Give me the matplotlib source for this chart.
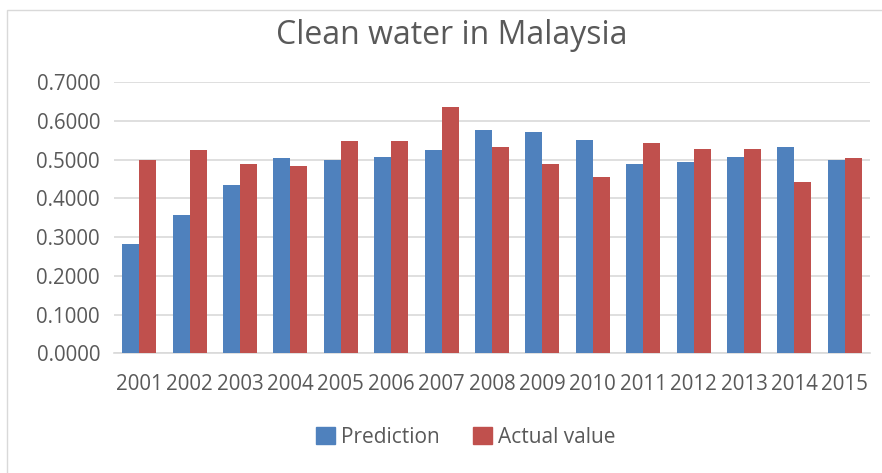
import matplotlib.pyplot as plt
import matplotlib.patches as mpatches
import numpy as np

years = ['2001', '2002', '2003', '2004', '2005', '2006', '2007', '2008',
         '2009', '2010', '2011', '2012', '2013', '2014', '2015']
prediction = [0.283, 0.358, 0.435, 0.505, 0.499, 0.506, 0.524, 0.576,
              0.570, 0.551, 0.489, 0.494, 0.506, 0.531, 0.499]
actual = [0.499, 0.524, 0.489, 0.482, 0.547, 0.547, 0.635, 0.531,
          0.488, 0.454, 0.543, 0.527, 0.527, 0.441, 0.505]
y_ticks = [0.0, 0.1, 0.2, 0.3, 0.4, 0.5, 0.6, 0.7]

blue = '#4F81BD'
red = '#C0504D'
grey_text = '#595959'
grid_col = '#D9D9D9'

plt.rcParams['font.family'] = ['Open Sans', 'DejaVu Sans']

fig = plt.figure(figsize=(8.82, 4.73), dpi=100)
ax = fig.add_axes([114 / 882, 1 - 353.3 / 473, 756 / 882, 271.3 / 473])

x = np.arange(len(years))
w = 0.337
ax.bar(x - w / 2, prediction, w, color=blue, label='Prediction', zorder=3)
ax.bar(x + w / 2, actual, w, color=red, label='Actual value', zorder=3)

ax.set_xlim(-0.5, len(years) - 0.5)
ax.set_ylim(0, 0.7)
ax.set_yticks(y_ticks)
ax.set_yticklabels(['%.4f' % v for v in y_ticks])
ax.set_xticks(x)
ax.set_xticklabels(years)
ax.yaxis.grid(True, color=grid_col, linewidth=1.2, zorder=0)
ax.tick_params(axis='both', length=0, labelsize=14.8, colors=grey_text)
ax.tick_params(axis='x', pad=15)
ax.tick_params(axis='y', pad=10)
for s in ['top', 'right', 'left']:
    ax.spines[s].set_visible(False)
ax.spines['bottom'].set_color(grid_col)
ax.spines['bottom'].set_linewidth(1.2)

fig.text(452 / 882, 1 - 35 / 473, 'Clean water in Malaysia', ha='center',
         va='center', fontsize=23, color=grey_text)

handles = [mpatches.Patch(color=blue, label='Prediction'),
           mpatches.Patch(color=red, label='Actual value')]
fig.legend(handles=handles, loc='center', bbox_to_anchor=(466 / 882, 1 - 437 / 473),
           ncol=2, frameon=False, fontsize=15, labelcolor=grey_text,
           handlelength=0.9, handleheight=0.9, handletextpad=0.3, columnspacing=1.6)

# chart border (left and top visible)
fig.patches.append(mpatches.Rectangle((7 / 882, -0.1), 1.2, 1 - 10 / 473 + 0.1,
                                      transform=fig.transFigure, fill=False,
                                      edgecolor=grid_col, linewidth=1))

fig.savefig('out.png', dpi=100)
